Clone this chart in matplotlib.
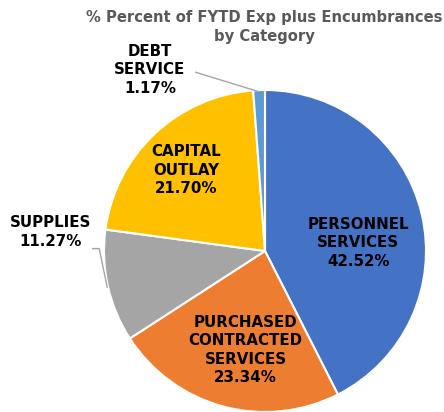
import matplotlib.pyplot as plt

# Data from the screenshot
categories = ['PERSONNEL\nSERVICES', 'PURCHASED\nCONTRACTED\nSERVICES', 'SUPPLIES',
              'CAPITAL\nOUTLAY', 'DEBT\nSERVICE']
shares = [42.52, 23.34, 11.27, 21.70, 1.17]
colors = ['#4472C4', '#ED7D31', '#A5A5A5', '#FFC000', '#5B9BD5']

fig = plt.figure(figsize=(4.44, 4.12), dpi=100)
ax = fig.add_axes([104 / 444, 0.0, 322 / 444, 322 / 412])

wedges, _ = ax.pie(shares, colors=colors, startangle=90, counterclock=False,
                   radius=1, wedgeprops=dict(edgecolor='white', linewidth=1.5))
for w in wedges:
    w.set_clip_on(False)
ax.set_aspect('equal')
ax.set_xlim(-1, 1)
ax.set_ylim(-1, 1)
ax.axis('off')

# label positions (data coords, pie radius = 1)
label_pos = [(0.58, 0.05), (-0.12, -0.615), (-1.335, 0.118), (-0.49, 0.503), (-0.715, 1.125)]
for cat, val, (x, y) in zip(categories, shares, label_pos):
    ax.text(x, y, f'{cat}\n{val:.2f}%', ha='center', va='center', fontsize=10.8,
            fontweight='bold', color='black', linespacing=1.3, clip_on=False)

# leader lines
ax.plot([-1.07, -1.03, -0.98], [0.015, 0.015, -0.225], color='#A5A5A5', lw=1, clip_on=False)
ax.plot([-0.43, -0.04], [1.11, 0.99], color='#A5A5A5', lw=1, clip_on=False)

fig.text(264 / 444, 1 - 27 / 412, '% Percent of FYTD Exp plus Encumbrances\nby Category',
         ha='center', va='center', fontsize=10.6, fontweight='bold', color='#595959',
         linespacing=1.3)

fig.savefig('out.png', dpi=100)
